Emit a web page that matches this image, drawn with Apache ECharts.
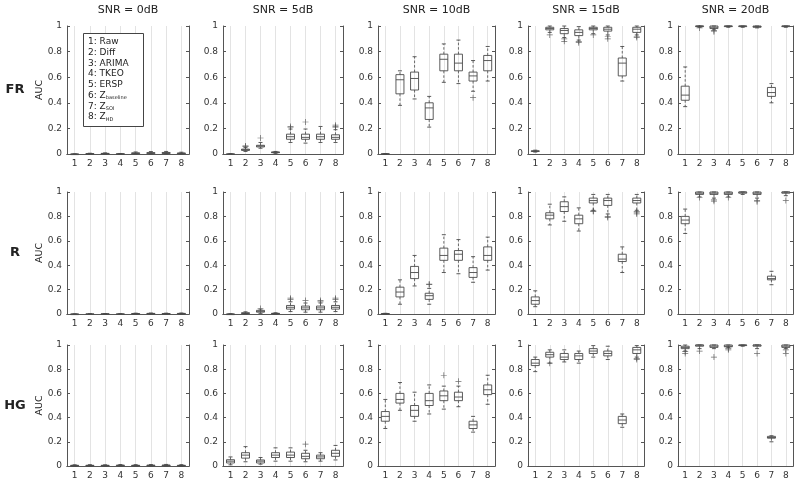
<!DOCTYPE html>
<html><head><meta charset="utf-8">
<script src="https://cdn.jsdelivr.net/npm/echarts@6/dist/echarts.min.js"></script>
<style>html,body{margin:0;padding:0;background:#fff}#c{width:800px;height:484px}</style>
</head><body><div id="c"></div>
<script>
// ---------- DATA ----------
const categories = ['1','2','3','4','5','6','7','8'];
const snrTitles = ['SNR = 0dB','SNR = 5dB','SNR = 10dB','SNR = 15dB','SNR = 20dB'];
const rowLabels = ['FR','R','HG'];
const yTicks = [0,0.2,0.4,0.6,0.8,1];
const methodNames = ['Raw','Diff','ARIMA','TKEO','ERSP','Z','Z','Z'];
const methodSubs  = ['','','','','','baseline','SOI','HD'];

// box values: [min, Q1, median, Q3, max] for methods 1..8
const FR_0dB  = [[0,0,0,0,0],[0,0.001,0.002,0.003,0.006],[0,0.001,0.003,0.005,0.009],[0,0,0.001,0.002,0.004],[0,0.003,0.006,0.009,0.016],[0,0.003,0.007,0.011,0.019],[0,0.004,0.008,0.012,0.02],[0,0.002,0.005,0.008,0.014]];
const FR_5dB  = [[0,0,0,0.001,0.002],[0.02,0.028,0.033,0.038,0.05],[0.045,0.055,0.062,0.068,0.09],[0.005,0.01,0.013,0.016,0.02],[0.09,0.115,0.135,0.155,0.195],[0.085,0.115,0.13,0.155,0.195],[0.09,0.115,0.135,0.155,0.215],[0.09,0.115,0.13,0.15,0.19]];
const FR_10dB = [[0,0,0.001,0.002,0.003],[0.38,0.47,0.58,0.62,0.65],[0.43,0.5,0.59,0.64,0.76],[0.21,0.27,0.36,0.4,0.45],[0.56,0.65,0.74,0.78,0.86],[0.55,0.65,0.71,0.78,0.89],[0.49,0.57,0.61,0.64,0.73],[0.57,0.65,0.73,0.77,0.84]];
const FR_15dB = [[0.015,0.02,0.022,0.025,0.03],[0.95,0.97,0.98,0.99,1],[0.91,0.94,0.965,0.98,1],[0.89,0.925,0.95,0.97,0.995],[0.94,0.97,0.98,0.99,1],[0.93,0.96,0.975,0.99,1],[0.57,0.61,0.71,0.75,0.84],[0.93,0.95,0.975,0.99,1]];
const FR_20dB = [[0.37,0.42,0.46,0.53,0.68],[0.99,0.995,1,1,1],[0.97,0.98,0.99,1,1],[0.99,0.995,1,1,1],[0.99,0.995,1,1,1],[0.985,0.99,0.995,1,1],[0.4,0.45,0.48,0.52,0.55],[0.99,0.995,1,1,1]];
const R_0dB   = [[0,0,0,0,0],[0,0,0,0.001,0.002],[0,0,0.001,0.002,0.003],[0,0,0,0.001,0.002],[0,0.001,0.002,0.004,0.007],[0,0.001,0.003,0.005,0.008],[0,0.001,0.002,0.004,0.007],[0,0.001,0.003,0.005,0.008]];
const R_5dB   = [[0,0,0,0,0.001],[0,0.004,0.007,0.01,0.018],[0.005,0.015,0.022,0.03,0.04],[0,0.002,0.004,0.006,0.01],[0.02,0.04,0.055,0.07,0.1],[0.015,0.035,0.05,0.065,0.09],[0.015,0.035,0.05,0.065,0.09],[0.02,0.04,0.055,0.07,0.1]];
const R_10dB  = [[0,0,0.002,0.004,0.006],[0.08,0.14,0.18,0.22,0.28],[0.23,0.29,0.34,0.39,0.48],[0.08,0.12,0.15,0.17,0.21],[0.34,0.44,0.48,0.54,0.65],[0.33,0.44,0.49,0.52,0.61],[0.26,0.3,0.34,0.38,0.47],[0.36,0.44,0.48,0.55,0.63]];
const R_15dB  = [[0.06,0.08,0.11,0.14,0.19],[0.73,0.78,0.81,0.83,0.9],[0.76,0.84,0.88,0.92,0.96],[0.68,0.74,0.78,0.81,0.87],[0.85,0.91,0.93,0.95,0.98],[0.82,0.89,0.93,0.95,0.98],[0.34,0.43,0.45,0.49,0.55],[0.85,0.91,0.93,0.95,0.98]];
const R_20dB  = [[0.66,0.74,0.77,0.8,0.86],[0.96,0.98,0.99,1,1],[0.95,0.98,0.99,1,1],[0.96,0.98,0.99,1,1],[0.98,0.99,1,1,1],[0.95,0.98,0.99,1,1],[0.24,0.28,0.29,0.31,0.35],[0.97,0.99,1,1,1]];
const HG_0dB  = [[0,0.002,0.004,0.006,0.01],[0,0.002,0.004,0.006,0.011],[0,0.002,0.004,0.006,0.01],[0,0.002,0.005,0.007,0.012],[0,0.002,0.004,0.006,0.011],[0,0.002,0.005,0.007,0.012],[0,0.002,0.005,0.008,0.013],[0,0.002,0.004,0.006,0.011]];
const HG_5dB  = [[0.01,0.025,0.04,0.052,0.075],[0.035,0.065,0.09,0.11,0.16],[0.015,0.025,0.04,0.05,0.07],[0.04,0.07,0.09,0.11,0.15],[0.04,0.07,0.09,0.115,0.15],[0.035,0.06,0.08,0.105,0.13],[0.04,0.06,0.075,0.09,0.11],[0.05,0.08,0.105,0.13,0.17]];
const HG_10dB = [[0.31,0.37,0.41,0.45,0.55],[0.46,0.52,0.55,0.6,0.69],[0.37,0.41,0.46,0.5,0.61],[0.43,0.5,0.54,0.6,0.67],[0.47,0.54,0.58,0.62,0.66],[0.49,0.54,0.57,0.61,0.66],[0.28,0.31,0.34,0.37,0.41],[0.51,0.59,0.63,0.67,0.75]];
const HG_15dB = [[0.78,0.83,0.85,0.88,0.9],[0.85,0.9,0.92,0.94,0.96],[0.86,0.88,0.9,0.93,0.96],[0.85,0.88,0.91,0.93,0.95],[0.9,0.93,0.95,0.97,0.995],[0.88,0.91,0.93,0.95,0.99],[0.32,0.35,0.38,0.41,0.43],[0.9,0.93,0.96,0.98,0.995]];
const HG_20dB = [[0.95,0.97,0.98,0.99,1],[0.97,0.99,1,1,1],[0.97,0.98,0.99,1,1],[0.98,0.985,0.99,1,1],[0.99,0.995,1,1,1],[0.97,0.99,1,1,1],[0.2,0.23,0.235,0.245,0.25],[0.97,0.98,0.99,1,1]];

// outliers: [method, value]
const FR_0dB_out  = [];
const FR_5dB_out  = [[2,0.058],[2,0.063],[3,0.125],[5,0.205],[5,0.215],[6,0.25],[8,0.205],[8,0.215],[8,0.225]];
const FR_10dB_out = [[7,0.44]];
const FR_15dB_out = [[2,0.93],[3,0.9],[3,0.88],[4,0.88],[4,0.87],[5,0.93],[6,0.92],[6,0.9],[8,0.92],[8,0.91]];
const FR_20dB_out = [[2,0.985],[3,0.965],[3,0.955]];
const R_0dB_out   = [];
const R_5dB_out   = [[3,0.045],[5,0.12],[5,0.13],[6,0.11],[7,0.1],[7,0.11],[8,0.12],[8,0.13]];
const R_10dB_out  = [[4,0.24],[4,0.245]];
const R_15dB_out  = [[5,0.84],[5,0.845],[6,0.8],[6,0.79],[8,0.84],[8,0.83],[8,0.82]];
const R_20dB_out  = [[2,0.955],[3,0.935],[3,0.925],[4,0.955],[6,0.93],[6,0.92],[8,0.93]];
const HG_0dB_out  = [];
const HG_5dB_out  = [[6,0.18]];
const HG_10dB_out = [[5,0.75],[6,0.7]];
const HG_15dB_out = [[2,0.85],[8,0.89],[8,0.88]];
const HG_20dB_out = [[1,0.93],[1,0.945],[2,0.95],[3,0.9],[4,0.96],[4,0.97],[6,0.93],[8,0.96],[8,0.93]];

const boxes = [[FR_0dB,FR_5dB,FR_10dB,FR_15dB,FR_20dB],[R_0dB,R_5dB,R_10dB,R_15dB,R_20dB],[HG_0dB,HG_5dB,HG_10dB,HG_15dB,HG_20dB]];
const outs  = [[FR_0dB_out,FR_5dB_out,FR_10dB_out,FR_15dB_out,FR_20dB_out],[R_0dB_out,R_5dB_out,R_10dB_out,R_15dB_out,R_20dB_out],[HG_0dB_out,HG_5dB_out,HG_10dB_out,HG_15dB_out,HG_20dB_out]];

// ---------- LAYOUT ----------
const colLeft  = [67,223,378,528,678];
const colWidth = [122,120,117,116,115];
const rowTop   = [26,192,345];
const rowH     = [128,122,121];
const FONT = 'DejaVu Sans';
const AX = '#555', TXT = '#333', GRID = '#e3e3e3', BOX = '#4a4a4a';
const plusPath = 'path://M4.4,0H5.6V10H4.4ZM0,4.4H10V5.6H0Z';

function renderBox(params, api) {
  const ci = api.value(0);
  const pt = k => api.coord([ci, api.value(k)]);
  const x = pt(1)[0];
  const yMin = pt(1)[1], yQ1 = pt(2)[1], yMed = pt(3)[1], yQ3 = pt(4)[1], yMax = pt(5)[1];
  const hw = 4, cw = 2;
  const solid = {stroke:BOX, lineWidth:0.9, fill:null};
  const dashed = {stroke:BOX, lineWidth:0.8, lineDash:[2.5,2], fill:null};
  return {type:'group', children:[
    {type:'line', shape:{x1:x,y1:yQ3,x2:x,y2:yMax}, style:dashed},
    {type:'line', shape:{x1:x,y1:yQ1,x2:x,y2:yMin}, style:dashed},
    {type:'line', shape:{x1:x-cw,y1:yMax,x2:x+cw,y2:yMax}, style:solid},
    {type:'line', shape:{x1:x-cw,y1:yMin,x2:x+cw,y2:yMin}, style:solid},
    {type:'rect', shape:{x:x-hw,y:yQ3,width:2*hw,height:Math.max(yQ1-yQ3,0.6)}, style:solid},
    {type:'line', shape:{x1:x-hw,y1:yMed,x2:x+hw,y2:yMed}, style:solid}
  ]};
}

const chart = echarts.init(document.getElementById('c'), null, {renderer:'canvas'});
const grid=[], xAxis=[], yAxis=[], series=[], graphic=[];

for (let r=0;r<3;r++) for (let c=0;c<5;c++) {
  const p = r*5+c;
  grid.push({left:colLeft[c], top:rowTop[r], width:colWidth[c], height:rowH[r], containLabel:false});
  xAxis.push({type:'category', gridIndex:p, data:categories, position:'bottom', boundaryGap:true,
    axisLine:{lineStyle:{color:AX,width:1}}, axisTick:{inside:true,length:3,alignWithLabel:true,lineStyle:{color:AX}},
    axisLabel:{color:TXT,fontFamily:FONT,fontSize:9,margin:5}, splitLine:{show:false}});
  xAxis.push({type:'category', gridIndex:p, data:categories, position:'top', boundaryGap:true,
    axisLine:{lineStyle:{color:AX,width:1}}, axisTick:{inside:true,length:3,alignWithLabel:true,lineStyle:{color:AX}},
    axisLabel:{show:false}, splitLine:{show:false}});
  yAxis.push({type:'value', gridIndex:p, min:0, max:1, interval:0.2, position:'left',
    axisLine:{show:true,lineStyle:{color:AX,width:1}}, axisTick:{show:true,inside:true,length:3,lineStyle:{color:AX}},
    axisLabel:{color:TXT,fontFamily:FONT,fontSize:9,margin:5,formatter:v=>String(+v.toFixed(1))}, splitLine:{show:false}});
  yAxis.push({type:'value', gridIndex:p, min:0, max:1, interval:0.2, position:'right',
    axisLine:{show:true,lineStyle:{color:AX,width:1}}, axisTick:{show:true,inside:true,length:3,lineStyle:{color:AX}},
    axisLabel:{show:false}, splitLine:{show:false}});
  series.push({type:'custom', xAxisIndex:2*p, yAxisIndex:2*p, renderItem:renderBox,
    data:boxes[r][c].map((b,i)=>[i].concat(b)), encode:{x:0,y:[1,2,3,4,5]}, silent:true, z:3,
    markLine:{silent:true, symbol:'none', label:{show:false}, animation:false, z:1,
      lineStyle:{color:GRID,width:1,type:'solid'}, emphasis:{disabled:true},
      data:categories.map(k=>({xAxis:k}))}});
  series.push({type:'scatter', xAxisIndex:2*p, yAxisIndex:2*p, data:outs[r][c].map(o=>[String(o[0]),o[1]]),
    symbol:plusPath, symbolSize:6, itemStyle:{color:BOX}, silent:true, z:4});
}

for (let c=0;c<5;c++) graphic.push({type:'text', x:colLeft[c]+colWidth[c]/2, y:10,
  style:{text:snrTitles[c], fill:'#222', font:'11px '+FONT, align:'center', verticalAlign:'middle'}});
for (let r=0;r<3;r++) {
  const cy = rowTop[r]+rowH[r]/2;
  graphic.push({type:'text', x:15, y:cy, style:{text:rowLabels[r], fill:'#222', font:'bold 13px '+FONT, align:'center', verticalAlign:'middle'}});
  graphic.push({type:'text', x:40, y:cy, rotation:Math.PI/2, style:{text:'AUC', fill:'#222', font:'9.5px '+FONT, align:'center', verticalAlign:'middle'}});
}
graphic.push({type:'rect', shape:{x:83.5,y:33.5,width:60,height:93}, style:{fill:'#fff', stroke:'#444', lineWidth:1}, z:50});
for (let i=0;i<8;i++) {
  const sub = methodSubs[i];
  const txt = (i+1)+': '+methodNames[i]+(sub?'{s|'+sub+'}':'');
  graphic.push({type:'text', x:88, y:42+i*10.7, z:51,
    style:{text:txt, fill:'#222', font:'9px '+FONT, verticalAlign:'middle',
      rich:{s:{fontSize:5, fontFamily:FONT, fill:'#222', padding:[5,0,0,0]}}}});
}

chart.setOption({animation:false, backgroundColor:'#fff', grid, xAxis, yAxis, series, graphic});
</script></body></html>
